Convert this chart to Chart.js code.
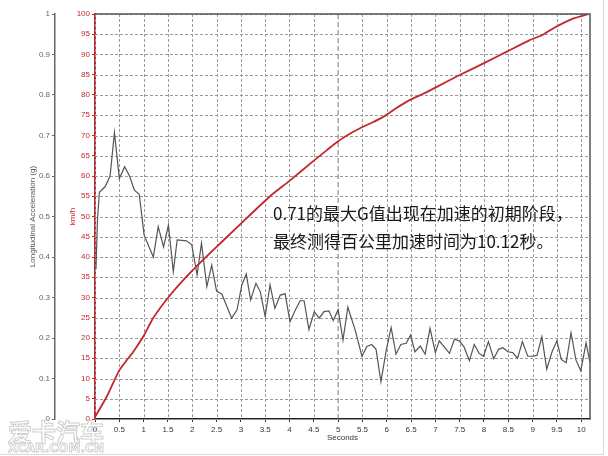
<!DOCTYPE html>
<html><head><meta charset="utf-8">
<script src="https://cdn.jsdelivr.net/npm/chart.js@4"></script>
<style>html,body{margin:0;padding:0;background:#fff}</style>
</head><body>
<canvas id="c" width="608" height="456"></canvas>
<script>
// ---- data ----
const gTime = [0.02,0.05,0.09,0.21,0.31,0.40,0.50,0.61,0.71,0.81,0.91,1.01,1.20,1.30,1.41,1.51,1.61,1.69,1.88,1.99,2.10,2.19,2.30,2.40,2.50,2.61,2.81,2.92,3.02,3.11,3.20,3.31,3.40,3.50,3.60,3.70,3.81,3.91,4.01,4.12,4.22,4.30,4.40,4.51,4.61,4.71,4.81,4.90,5.00,5.10,5.20,5.35,5.49,5.59,5.69,5.78,5.88,5.99,6.09,6.19,6.29,6.40,6.49,6.58,6.69,6.79,6.89,7.00,7.08,7.19,7.29,7.39,7.49,7.59,7.70,7.80,7.90,7.99,8.09,8.20,8.30,8.39,8.49,8.59,8.69,8.79,8.90,9.00,9.09,9.19,9.29,9.40,9.50,9.59,9.69,9.79,9.89,9.99,10.10,10.18];
const gValues = [0.37,0.49,0.56,0.574,0.60,0.707,0.594,0.623,0.60,0.565,0.555,0.454,0.40,0.475,0.425,0.479,0.364,0.442,0.44,0.43,0.356,0.434,0.327,0.38,0.316,0.308,0.249,0.269,0.331,0.358,0.294,0.335,0.314,0.253,0.331,0.273,0.306,0.309,0.24,0.269,0.292,0.292,0.221,0.265,0.249,0.265,0.267,0.243,0.27,0.195,0.276,0.22,0.155,0.179,0.184,0.172,0.092,0.170,0.226,0.160,0.184,0.187,0.207,0.166,0.180,0.160,0.224,0.164,0.193,0.177,0.162,0.197,0.193,0.178,0.144,0.184,0.162,0.155,0.191,0.149,0.172,0.176,0.166,0.164,0.150,0.191,0.155,0.155,0.157,0.203,0.123,0.166,0.193,0.147,0.139,0.213,0.146,0.119,0.188,0.139];
const speedTime = [0,0.24,0.5,0.78,1.0,1.2,1.54,1.95,2.37,2.98,3.6,4.0,4.5,4.77,5.0,5.25,5.45,5.7,5.93,6.2,6.48,6.75,7.03,7.51,7.99,8.47,8.95,9.2,9.43,9.84,10.15];
const speedValues = [0.5,5.5,12,16.5,20.5,25,30.5,36,41,48,55,58.8,63.8,66.4,68.6,70.5,71.8,73.2,74.6,76.8,78.8,80.3,82,85,87.8,90.7,93.6,94.8,96.5,98.9,100];
const markerTime = [5, 5];
const markerSpeed = [0, 100];
const annotationLines = ['0.71的最大G值出现在加速的初期阶段，', '最终测得百公里加速时间为10.12秒。'];

const RED = '#c0282d';
const GRID = '#9a9a9a';
const toXY = (xs, ys) => xs.map((x, i) => ({x, y: ys[i]}));
const fmt = v => String(Math.round(v * 100) / 100);

// dashed grid drawn from the library's own scale ticks
const gridLines = {
  id: 'gridLines',
  beforeDatasetsDraw(chart) {
    const {ctx, chartArea: a} = chart;
    const xs = chart.scales.x, ys = chart.scales.kmh;
    ctx.save();
    ctx.strokeStyle = GRID; ctx.lineWidth = 1; ctx.setLineDash([3, 2]);
    ys.ticks.forEach(t => {
      const y = Math.round(ys.getPixelForValue(t.value)) + 0.5;
      ctx.beginPath(); ctx.moveTo(a.left, y); ctx.lineTo(a.right, y); ctx.stroke();
    });
    xs.ticks.forEach(t => {
      if (Math.abs(t.value - markerTime[0]) < 1e-6) return;
      const x = Math.round(xs.getPixelForValue(t.value)) + 0.5;
      ctx.beginPath(); ctx.moveTo(x, a.top); ctx.lineTo(x, a.bottom); ctx.stroke();
    });
    ctx.restore();
  }
};

const overlay = {
  id: 'overlay',
  afterDraw(chart) {
    const {ctx, chartArea: a} = chart;
    ctx.save();
    ctx.strokeStyle = '#555'; ctx.lineWidth = 1.5;
    ctx.beginPath();
    ctx.moveTo(a.left, a.top); ctx.lineTo(a.right, a.top); ctx.lineTo(a.right, a.bottom);
    ctx.stroke();
    ctx.strokeStyle = '#d8d8d8'; ctx.lineWidth = 1;
    ctx.beginPath();
    ctx.moveTo(603.5, 0); ctx.lineTo(603.5, 454.5); ctx.lineTo(0, 454.5);
    ctx.stroke();
    ctx.fillStyle = '#1a1a1a';
    ctx.font = '17px "Noto Sans CJK SC"';
    ctx.textBaseline = 'middle';
    ctx.fillText(annotationLines[0], 273, 214);
    ctx.fillText(annotationLines[1], 273, 242);
    ctx.restore();
  }
};
const watermark = {
  id: 'watermark',
  beforeDatasetsDraw(chart) {
    const {ctx} = chart;
    ctx.save();
    ctx.strokeStyle = '#cfcfcf'; ctx.lineWidth = 1;
    ctx.font = 'bold 24px "Noto Sans CJK SC"';
    ctx.textBaseline = 'middle';
    ctx.strokeText('爱卡汽车', 8, 432);
    ctx.font = 'bold 13px "DejaVu Sans"';
    const w = ctx.measureText('XCAR.COM.CN').width;
    ctx.translate(8, 449);
    ctx.scale(96 / w, 1);
    ctx.strokeText('XCAR.COM.CN', 0, 0);
    ctx.restore();
  }
};

const tickFont = {size: 8, family: '"Liberation Sans", Arial, sans-serif'};

new Chart(document.getElementById('c'), {
  type: 'line',
  data: {
    datasets: [
      {data: toXY(speedTime, speedValues), yAxisID: 'kmh', borderColor: RED, borderWidth: 1.8, pointRadius: 0, order: 1, tension: 0.2},
      {data: toXY(gTime, gValues), yAxisID: 'g', borderColor: '#555', borderWidth: 1.2, pointRadius: 0, order: 2},
      {data: toXY(markerTime, markerSpeed), yAxisID: 'kmh', borderColor: '#8a6a6a', borderWidth: 1, borderDash: [5, 3], pointRadius: 0, order: 3}
    ]
  },
  options: {
    responsive: false, animation: false, devicePixelRatio: 1,
    layout: {padding: {left: 0, right: 18, top: 14, bottom: 0}},
    plugins: {legend: {display: false}, tooltip: {enabled: false}},
    scales: {
      x: {
        type: 'linear', min: 0, max: 10.18, weight: 0,
        afterFit(s) { s.height = 37; },
        ticks: {stepSize: 0.5, includeBounds: false, autoSkip: false, maxRotation: 0, color: '#333', font: tickFont, padding: 3, callback: fmt},
        grid: {display: true, drawOnChartArea: false, drawTicks: true, tickColor: '#333', tickLength: 3},
        border: {display: true, color: '#222', width: 1.5},
        title: {display: true, text: 'Seconds', color: '#333', font: tickFont, padding: {top: 0, bottom: 13}}
      },
      g: {
        type: 'linear', position: 'left', weight: 10, min: 0, max: 1,
        afterFit(s) { s.width = 55; },
        ticks: {stepSize: 0.1, color: '#666', font: tickFont, padding: 2, callback: fmt},
        grid: {display: true, drawOnChartArea: false, drawTicks: true, tickLength: 3, color: '#666', tickColor: '#666'},
        border: {display: true, color: '#666', width: 1.5},
        title: {display: true, text: 'Longitudinal Acceleration (g)', color: '#555', font: tickFont, padding: {top: 28, bottom: 0}}
      },
      kmh: {
        type: 'linear', position: 'left', weight: 0, min: 0, max: 100,
        afterFit(s) { s.width = 40; },
        ticks: {stepSize: 5, color: RED, font: tickFont, padding: 2},
        grid: {display: true, drawOnChartArea: false, drawTicks: true, tickColor: RED, tickLength: 3},
        border: {display: true, color: RED, width: 2},
        title: {display: true, text: 'km/h', color: RED, font: tickFont, padding: {top: 13, bottom: 0}}
      }
    }
  },
  plugins: [gridLines, watermark, overlay]
});
</script>
</body></html>
